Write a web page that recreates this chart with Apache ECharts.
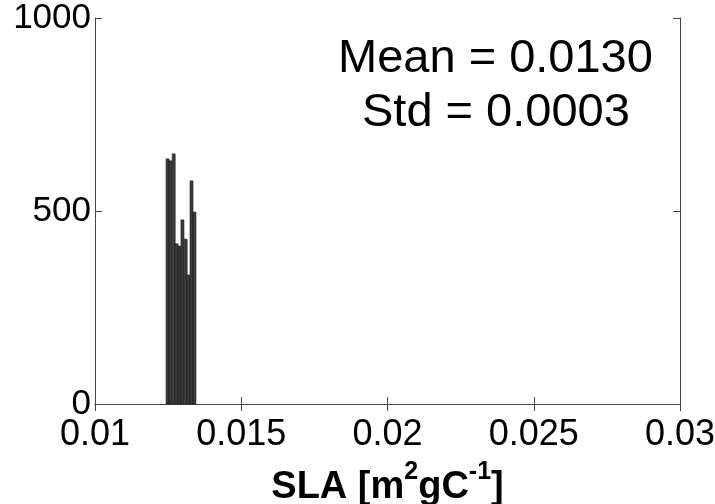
<!DOCTYPE html>
<html>
<head>
<meta charset="utf-8">
<script src="https://cdn.jsdelivr.net/npm/echarts@6/dist/echarts.min.js"></script>
<style>
  html, body { margin: 0; padding: 0; background: #fff; }
  #chart { width: 715px; height: 504px; }
</style>
</head>
<body>
<div id="chart"></div>
<script>
// histogram bins (centres) and counts
var binCenters = [0.01248, 0.01258, 0.01269, 0.01279, 0.01289, 0.01299, 0.01310, 0.01320, 0.01330, 0.01340];
var binCounts = [635, 630, 648, 415, 409, 477, 427, 334, 578, 497];
var binWidth = 0.000103;
var statLines = ['Mean = 0.0130', 'Std = 0.0003'];

var chartDom = document.getElementById('chart');
var myChart = echarts.init(chartDom);
var font = '"Liberation Sans", Arial, sans-serif';
var frameColor = '#444';

var bars = binCenters.map(function (c, i) {
    return [c - binWidth / 2, c + binWidth / 2, binCounts[i]];
});

var option = {
    animation: false,
    grid: { left: 95, right: 35, top: 18, bottom: 100, containLabel: false, outerBoundsMode: 'none' },
    xAxis: [
        {
            type: 'value',
            min: 0.01, max: 0.03, interval: 0.005,
            axisLine: { show: true, onZero: false, lineStyle: { color: frameColor, width: 1 } },
            axisTick: { show: true, inside: true, length: 7, lineStyle: { color: frameColor } },
            splitLine: { show: false },
            axisLabel: { color: '#000', fontSize: 36, fontFamily: font, margin: 13 },
            name: '{b|SLA [m}{sup|2}{b|gC}{sup|-1}{b|]}',
            nameLocation: 'middle',
            nameGap: 56,
            nameTextStyle: {
                rich: {
                    b: { fontSize: 38, fontWeight: 'bold', fontFamily: font, color: '#000', verticalAlign: 'bottom' },
                    sup: { fontSize: 25, fontWeight: 'bold', fontFamily: font, color: '#000', verticalAlign: 'top', padding: [0, 0, 22, 0] }
                }
            }
        },
        {
            type: 'value', position: 'top',
            min: 0.01, max: 0.03, interval: 0.005,
            axisLine: { show: true, lineStyle: { color: frameColor, width: 1 } },
            axisTick: { show: true, inside: true, length: 7, lineStyle: { color: frameColor } },
            axisLabel: { show: false },
            splitLine: { show: false }
        }
    ],
    yAxis: [
        {
            type: 'value',
            min: 0, max: 1000, interval: 500,
            axisLine: { show: true, lineStyle: { color: frameColor, width: 1 } },
            axisTick: { show: true, inside: true, length: 7, lineStyle: { color: frameColor } },
            splitLine: { show: false },
            axisLabel: {
                color: '#000', fontSize: 35, fontFamily: font, margin: 4,
                formatter: function (v) { return String(v); }
            }
        },
        {
            type: 'value', position: 'right',
            min: 0, max: 1000, interval: 500,
            axisLine: { show: true, lineStyle: { color: frameColor, width: 1 } },
            axisTick: { show: true, inside: true, length: 7, lineStyle: { color: frameColor } },
            axisLabel: { show: false },
            splitLine: { show: false }
        }
    ],
    graphic: [
        {
            type: 'text', left: 338, top: 36,
            style: { text: statLines[0], font: '47px ' + font, fill: '#000' }
        },
        {
            type: 'text', left: 362, top: 90,
            style: { text: statLines[1], font: '47px ' + font, fill: '#000' }
        }
    ],
    series: [
        {
            type: 'custom',
            xAxisIndex: 0, yAxisIndex: 0,
            data: bars,
            encode: { x: [0, 1], y: 2 },
            renderItem: function (params, api) {
                var p0 = api.coord([api.value(0), api.value(2)]);
                var p1 = api.coord([api.value(1), 0]);
                return {
                    type: 'rect',
                    shape: { x: p0[0], y: p0[1], width: p1[0] - p0[0], height: p1[1] - p0[1] },
                    style: { fill: '#3c3c3c', stroke: '#1a1a1a', lineWidth: 0.6 }
                };
            }
        }
    ]
};

myChart.setOption(option);
</script>
</body>
</html>
